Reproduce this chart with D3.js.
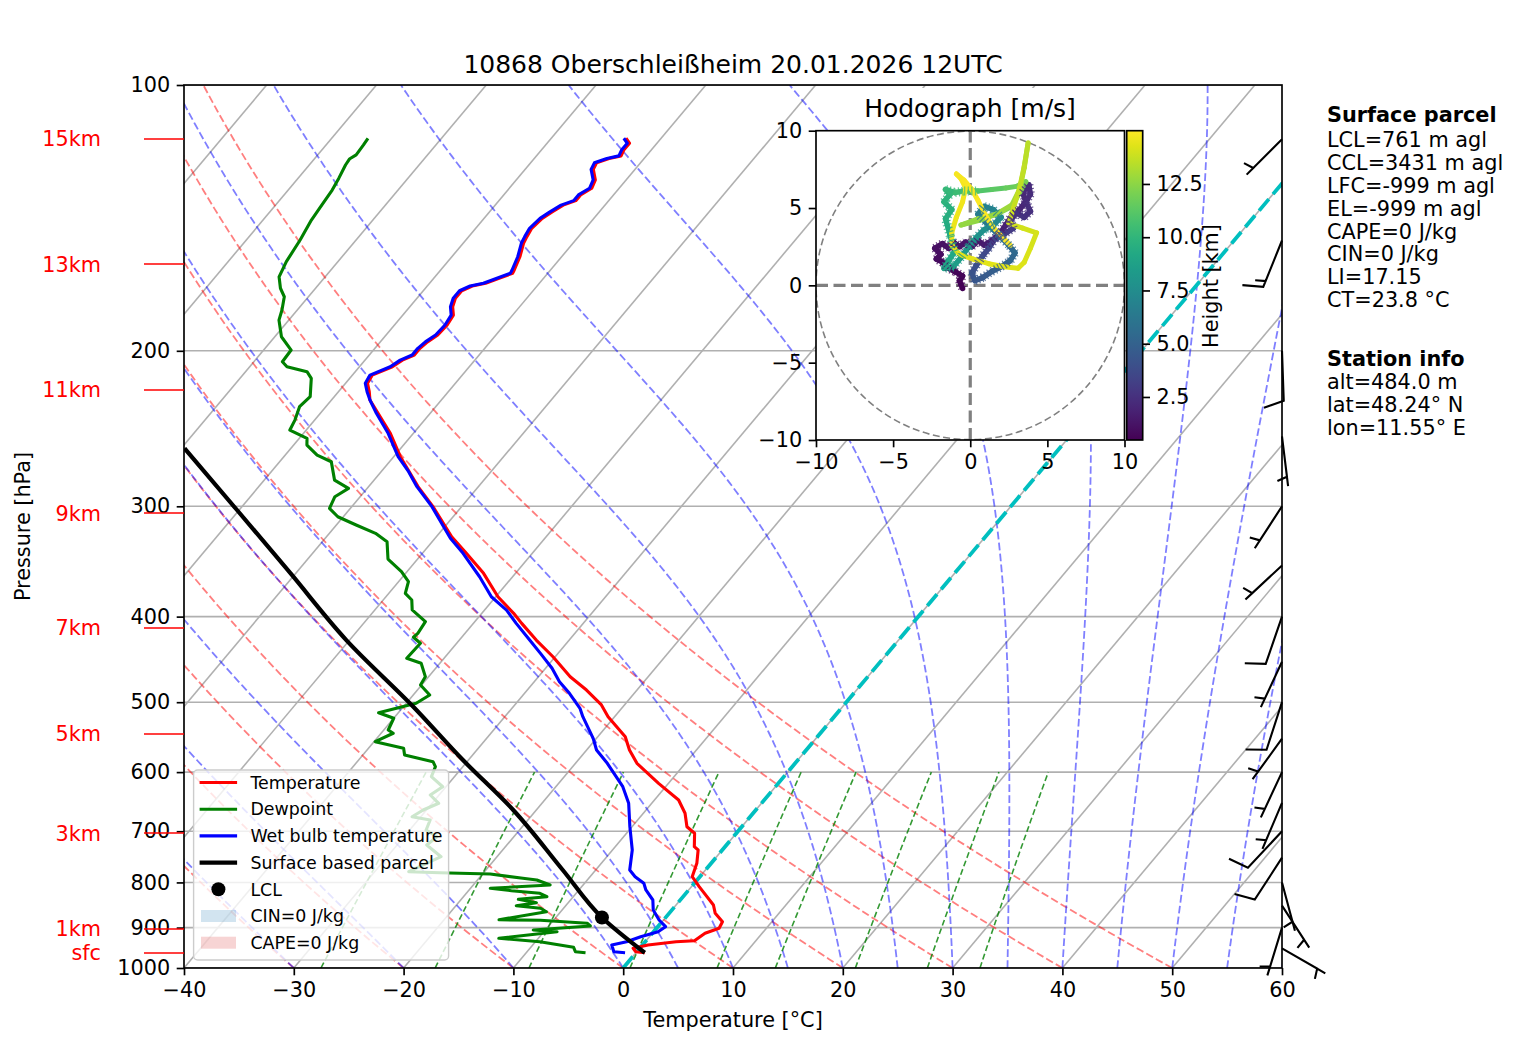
<!DOCTYPE html>
<html>
<head>
<meta charset="utf-8">
<title>10868 Oberschleißheim skew-T</title>
<script src="https://cdn.jsdelivr.net/npm/d3@7"></script>
<style>
  body { margin: 0; background: #fff; }
  text { font-family: "DejaVu Sans", sans-serif; }
</style>
</head>
<body>
<div id="chart"></div>
<script>
// ---- sounding profiles: [pressure hPa, value °C] ----
const temperature = [
  [960.9, 0.8], [958.4, -0.1], [949.9, -0.6], [941.8, 0.5], [933.7, 2.8], [931.3, 4.4],
  [913.5, 4.8], [901.7, 5.7], [886.3, 5.5], [867.1, 4.2], [848.5, 3.4], [808.9, 0.7],
  [788.1, -0.7], [761.1, -1.3], [735.1, -2.2], [728.8, -2.8], [703.8, -3.8], [691.8, -5.0],
  [668.0, -6.2], [645.3, -7.8], [617.8, -10.9], [586.4, -14.4], [566.4, -16.1], [547.1, -17.5],
  [519.2, -20.6], [503.6, -22.1], [484.4, -24.6], [467.9, -27.1], [444.1, -30.2], [425.2, -33.0],
  [407.1, -35.6], [396.6, -37.1], [379.8, -39.8], [357.3, -42.9], [339.1, -46.0], [324.8, -48.6],
  [300.3, -52.6], [285.0, -55.5], [263.6, -59.4], [248.0, -62.1], [227.4, -66.5], [222.5, -67.2],
  [217.7, -68.0], [213.1, -68.2], [208.5, -67.0], [204.9, -66.6], [202.2, -65.9], [198.7, -65.9],
  [195.4, -65.7], [191.9, -65.3], [187.0, -65.2], [182.2, -65.4], [178.3, -66.1], [174.4, -66.5],
  [171.0, -66.5], [168.9, -65.9], [167.7, -64.9], [165.6, -64.1], [163.4, -63.2], [162.0, -63.3],
  [156.5, -63.8], [151.1, -64.5], [148.5, -64.7], [145.3, -64.9], [141.6, -64.7], [139.2, -64.3],
  [136.8, -63.8], [135.2, -63.0], [133.2, -63.0], [130.9, -62.5], [128.1, -62.8], [124.6, -63.8],
  [122.5, -64.0], [121.1, -63.2], [120.3, -62.3], [118.5, -62.5], [116.4, -62.5], [114.9, -63.2]
];

const wetBulb = [
  [960.9, -1.0], [958.4, -2.1], [941.8, -2.8], [933.7, -1.7], [921.6, -0.8], [909.7, 0.4],
  [897.9, 0.7], [882.4, -0.4], [859.6, -1.7], [837.5, -2.5], [815.9, -3.9], [801.8, -4.6],
  [788.1, -5.9], [774.5, -6.9], [735.1, -8.2], [691.8, -10.2], [650.8, -12.1], [623.3, -13.9],
  [586.4, -17.1], [566.4, -19.1], [549.4, -20.3], [519.2, -22.9], [508.0, -23.8], [488.6, -25.9],
  [474.0, -27.7], [457.7, -29.4], [440.2, -31.6], [425.2, -33.6], [407.1, -36.1], [393.2, -38.0],
  [379.8, -40.4], [360.5, -43.0], [339.1, -46.3], [326.1, -48.6], [316.4, -50.1], [300.3, -52.7],
  [285.0, -55.6], [274.1, -57.5], [263.6, -59.6], [248.0, -62.3], [235.4, -64.9], [227.4, -66.5],
  [222.5, -67.4], [217.7, -68.2], [213.1, -68.4], [208.5, -67.2], [204.9, -66.8], [202.2, -66.1],
  [198.7, -66.1], [195.4, -65.9], [191.9, -65.5], [187.0, -65.4], [182.2, -65.6], [178.3, -66.3],
  [174.4, -66.7], [171.0, -66.7], [168.9, -66.1], [167.7, -65.1], [165.6, -64.3], [163.4, -63.4],
  [162.0, -63.5], [156.5, -64.0], [151.1, -64.7], [148.5, -64.9], [145.3, -65.1], [141.6, -64.9],
  [139.2, -64.5], [136.8, -64.0], [135.2, -63.2], [133.2, -63.2], [130.9, -62.7], [128.1, -63.0],
  [124.6, -64.0], [122.5, -64.2], [121.1, -63.4], [120.3, -62.5], [118.5, -62.7], [116.4, -62.7],
  [114.9, -63.4]
];

const dewpoint = [
  [960.9, -4.6], [958.4, -5.6], [947.5, -6.1], [933.7, -9.6], [925.5, -13.6], [909.7, -8.8],
  [905.7, -11.1], [896.3, -6.2], [890.0, -6.7], [883.0, -11.2], [881.8, -15.0], [863.5, -11.3],
  [855.8, -12.1], [850.1, -14.5], [843.4, -12.9], [836.0, -14.8], [830.3, -12.4], [823.0, -13.3],
  [817.4, -16.1], [812.3, -18.2], [805.4, -13.0], [794.9, -14.6], [791.4, -16.0], [782.6, -19.3],
  [780.0, -24.0], [777.9, -26.9], [748.1, -25.1], [725.6, -27.3], [710.1, -27.0], [697.8, -28.5],
  [679.8, -28.9], [674.0, -30.8], [662.3, -30.3], [650.8, -29.4], [636.9, -30.8], [623.3, -30.3],
  [607.2, -32.1], [591.6, -32.5], [583.9, -33.1], [573.8, -36.2], [563.9, -36.8], [554.2, -39.9],
  [542.2, -38.9], [537.6, -39.6], [521.4, -40.0], [513.9, -41.8], [501.4, -39.1], [490.7, -38.5],
  [478.1, -40.1], [467.8, -40.3], [451.8, -41.7], [445.9, -43.4], [428.8, -43.3], [422.1, -44.4],
  [417.8, -44.3], [405.3, -44.5], [393.1, -46.6], [383.0, -47.4], [376.4, -48.5], [365.2, -49.1],
  [355.8, -50.5], [344.2, -52.7], [329.1, -54.1], [321.9, -55.8], [315.0, -58.2], [308.3, -60.5],
  [301.6, -61.9], [292.6, -62.3], [286.3, -61.7], [280.2, -63.6], [267.1, -65.3], [262.5, -67.1],
  [255.7, -68.8], [251.3, -69.3], [245.9, -71.5], [239.6, -71.8], [231.4, -72.4], [225.4, -72.2],
  [214.9, -73.5], [211.2, -74.4], [208.5, -76.6], [205.8, -77.4], [199.6, -77.5], [192.8, -79.4],
  [184.6, -80.9], [179.8, -81.4], [173.7, -82.2], [169.9, -83.2], [164.9, -84.2], [158.5, -84.7],
  [149.8, -85.1], [142.2, -85.6], [136.7, -85.8], [131.5, -86.0], [127.5, -86.3], [123.2, -86.7],
  [121.3, -86.8], [120.0, -86.5], [116.9, -86.6], [114.9, -86.7]
];

const parcel = [
  [961.0, 0.8], [876.6, -5.8], [774.5, -13.0], [662.3, -22.1], [581.4, -30.5], [505.9, -39.1],
  [425.2, -50.3], [357.2, -60.5], [302.9, -70.2], [257.9, -79.7]
];
const lclPoint = [876.6, -5.8];

// ---- winds plotted as barbs on the right edge ----
const barbP = [950, 900, 850, 800, 750, 700, 650, 600, 550, 500, 450, 400, 350, 300, 250, 200, 150, 115.2];
const barbDir = [120, 197, 147, 165, 213, 223, 203, 205, 216, 198, 205, 199, 227, 213, 173, 178, 202, 225];
const barbKt = [5, 5, 5, 5, 10, 10, 5, 5, 5, 10, 5, 10, 5, 5, 5, 10, 15, 5];

// ---- hodograph trace: [u m/s, v m/s, height km] ----
const hodograph = [
  [-0.5, -0.2, 0.48], [-0.7, 0.3, 0.6], [-0.5, 0.6, 0.65], [-1.0, 0.9, 0.72], [-1.4, 1.1, 0.8],
  [-1.8, 1.5, 0.88], [-2.2, 1.7, 0.95], [-1.9, 2.0, 1.0], [-2.3, 2.4, 1.05], [-1.8, 2.7, 1.1],
  [-1.4, 2.4, 1.15], [-1.1, 2.8, 1.2], [-0.7, 2.5, 1.28], [-0.3, 2.8, 1.35], [0.1, 2.5, 1.42],
  [0.5, 2.9, 1.5], [0.9, 2.6, 1.58], [1.4, 2.9, 1.66], [1.9, 3.3, 1.74], [2.3, 3.9, 1.82],
  [2.7, 4.5, 1.9], [3.2, 4.9, 1.98], [3.6, 5.4, 2.06], [3.4, 6.0, 2.14], [3.8, 6.5, 2.22],
  [3.9, 5.9, 2.3], [3.6, 5.4, 2.38], [3.9, 4.8, 2.46], [3.5, 4.4, 2.55], [3.0, 4.7, 2.65],
  [2.6, 4.2, 2.75], [2.8, 3.7, 2.9], [2.2, 3.3, 3.1], [1.6, 3.0, 3.3], [1.2, 2.4, 3.5],
  [0.8, 1.9, 3.7], [0.4, 1.3, 3.9], [0.1, 0.8, 4.1], [0.3, 0.3, 4.3], [0.8, 0.5, 4.5],
  [1.4, 0.9, 4.7], [2.0, 1.2, 4.9], [2.6, 1.6, 5.1], [2.9, 2.1, 5.3], [2.5, 2.6, 5.5],
  [2.0, 3.1, 5.7], [1.5, 3.6, 5.95], [1.0, 4.1, 6.2], [0.5, 4.6, 6.45], [0.9, 5.1, 6.7],
  [1.5, 4.9, 6.95], [2.0, 4.4, 7.2], [1.5, 3.9, 7.45], [0.9, 3.6, 7.7], [0.4, 3.1, 7.95],
  [-0.1, 2.5, 8.2], [-0.6, 1.8, 8.45], [-1.1, 1.2, 8.7], [-1.7, 1.1, 8.9], [-1.4, 1.6, 9.05],
  [-1.0, 2.2, 9.2], [-1.3, 3.2, 9.35], [-1.6, 4.3, 9.5], [-1.2, 4.9, 9.65], [-1.7, 5.4, 9.8],
  [-1.3, 5.9, 9.95], [-1.6, 6.2, 10.1], [-1.0, 6.0, 10.3], [-0.4, 6.1, 10.6], [0.5, 6.1, 10.9],
  [1.4, 6.2, 11.2], [2.3, 6.3, 11.5], [3.0, 6.4, 11.75], [3.6, 6.7, 12.0], [2.7, 5.1, 12.2],
  [1.7, 4.6, 12.35], [0.6, 4.2, 12.5], [-0.6, 3.9, 12.6], [0.5, 4.3, 12.7], [1.7, 4.6, 12.8],
  [2.7, 5.2, 12.9], [3.2, 6.2, 13.05], [3.5, 7.6, 13.2], [3.75, 9.2, 13.4], [3.5, 7.7, 13.55],
  [3.2, 6.3, 13.7], [2.8, 5.0, 13.8], [2.5, 4.0, 13.9], [3.4, 3.7, 13.97], [4.3, 3.4, 14.05],
  [3.9, 2.4, 14.12], [3.5, 1.5, 14.2], [3.1, 1.1, 14.25], [2.2, 1.2, 14.3], [1.2, 1.4, 14.35],
  [0.2, 1.7, 14.4], [-0.7, 2.0, 14.45], [-1.2, 2.6, 14.5], [-1.2, 3.4, 14.55], [-0.9, 4.4, 14.6],
  [-0.5, 5.4, 14.65], [-0.3, 6.3, 14.7], [-0.6, 6.9, 14.75], [-0.9, 7.2, 14.8], [-0.4, 6.8, 14.84],
  [0.1, 6.2, 14.87], [0.5, 5.5, 14.9], [0.9, 4.7, 14.93], [1.3, 4.0, 14.95], [1.8, 3.4, 14.97],
  [2.2, 3.0, 14.99], [2.6, 2.6, 15.0]
];

// ---- axes, reference lines, labels ----
const pressureTicks = [100, 200, 300, 400, 500, 600, 700, 800, 900, 1000];
const tempTicks = [-40, -30, -20, -10, 0, 10, 20, 30, 40, 50, 60];
const isothermTemps = [-120, -110, -100, -90, -80, -70, -60, -50, -40, -30, -20, -10, 0, 10, 20, 30, 40, 50, 60];
const dryAdiabatT0 = [-40, -30, -20, -10, 0, 10, 20, 30, 40, 50];
const moistAdiabatT0 = [-40, -30, -20, -10, 0, 5, 10, 15, 20, 25, 30, 35, 40, 45, 50, 55, 60];
const mixingRatios = [0.0004, 0.001, 0.002, 0.004, 0.007, 0.01, 0.016, 0.024, 0.032];
const heightLabels = ["sfc", "1km", "3km", "5km", "7km", "9km", "11km", "13km", "15km"];
const heightP = [961.6, 903.3, 703.3, 543.2, 412.0, 305.3, 221.5, 159.5, 115.1];
const hodoTicks = [-10, -5, 0, 5, 10];
const cbarTicks = [2.5, 5.0, 7.5, 10.0, 12.5];
const parcelInfo = ["LCL=761 m agl", "CCL=3431 m agl", "LFC=-999 m agl", "EL=-999 m agl",
                    "CAPE=0 J/kg", "CIN=0 J/kg", "LI=17.15", "CT=23.8 °C"];
const stationInfo = ["alt=484.0 m", "lat=48.24° N", "lon=11.55° E"];

const W = 1517, H = 1054;
const FONT = "'DejaVu Sans', sans-serif";
const minus = d => (d < 0 ? "\u2212" + Math.abs(d) : String(d));

const svg = d3.select("#chart").append("svg")
  .attr("width", W).attr("height", H)
  .style("font-family", FONT);

// Skew-T frame
const L = 184, R = 1282, T = 85, B = 968;
const skew = 0.8397; // x shift per pixel of height
const x = d3.scaleLinear().domain([-40, 60]).range([L, R]);
const y = d3.scaleLog().domain([1000, 100]).range([B, T]);
const sx = (t, p) => x(t) + (B - y(p)) * skew;

const defs = svg.append("defs");
defs.append("clipPath").attr("id", "plotClip")
  .append("rect").attr("x", L).attr("y", T).attr("width", R - L).attr("height", B - T);

const plot = svg.append("g").attr("clip-path", "url(#plotClip)");
const profLine = d3.line().x(d => sx(d[1], d[0])).y(d => y(d[0]));
const smoothLine = d3.line().x(d => sx(d[1], d[0])).y(d => y(d[0])).curve(d3.curveMonotoneY);

// pressure grid
plot.selectAll(".pgrid").data(pressureTicks).enter().append("line")
  .attr("x1", L).attr("x2", R).attr("y1", d => y(d)).attr("y2", d => y(d))
  .attr("stroke", "#b0b0b0").attr("stroke-width", 1.6);

// skewed isotherms
plot.selectAll(".tgrid").data(isothermTemps).enter().append("line")
  .attr("x1", d => sx(d, 1000)).attr("y1", B)
  .attr("x2", d => sx(d, 100)).attr("y2", T)
  .attr("stroke", "#b0b0b0").attr("stroke-width", 1.6);

// pressure levels used for the background curves
const levels = d3.range(0, 101).map(i => 1000 * Math.pow(0.1, i / 100));

// dry adiabats
plot.selectAll(".dry").data(dryAdiabatT0).enter().append("path")
  .attr("d", t0 => profLine(levels.map(p => [p, (t0 + 273.15) * Math.pow(p / 1000, 0.2857) - 273.15])))
  .attr("fill", "none").attr("stroke", "#ff0000").attr("stroke-opacity", 0.5)
  .attr("stroke-width", 1.8).attr("stroke-dasharray", "7.7,3.3");

// moist adiabats (pseudo-adiabatic lapse rate, integrated from 1000 hPa)
function moistCurve(t0) {
  const Rd = 287.04749, Lv = 2.50084e6, Cp = 1004.6662, eps = 0.6219569;
  const es = tk => 6.112 * Math.exp(17.67 * (tk - 273.15) / (tk - 29.65));
  const f = (p, tk) => {
    const e = es(tk), rs = eps * e / (p - e);
    return (Rd * tk + Lv * rs) / (Cp + Lv * Lv * rs * eps / (Rd * tk * tk));
  };
  const n = 200, h = Math.log(0.1) / n;
  let tk = t0 + 273.15, lp = Math.log(1000);
  const out = [[1000, t0]];
  for (let i = 0; i < n; i++) {
    const p0 = Math.exp(lp), pm = Math.exp(lp + h / 2), p1 = Math.exp(lp + h);
    const k1 = f(p0, tk), k2 = f(pm, tk + h * k1 / 2), k3 = f(pm, tk + h * k2 / 2), k4 = f(p1, tk + h * k3);
    tk += h * (k1 + 2 * k2 + 2 * k3 + k4) / 6;
    lp += h;
    out.push([p1, tk - 273.15]);
  }
  return out;
}
plot.selectAll(".moist").data(moistAdiabatT0).enter().append("path")
  .attr("d", t0 => profLine(moistCurve(t0)))
  .attr("fill", "none").attr("stroke", "#0000ff").attr("stroke-opacity", 0.5)
  .attr("stroke-width", 1.8).attr("stroke-dasharray", "7.7,3.3");

// mixing ratio lines, 1000 -> 600 hPa
const mixLevels = d3.range(0, 41).map(i => 1000 - i * 10);
plot.selectAll(".mix").data(mixingRatios).enter().append("path")
  .attr("d", w => profLine(mixLevels.map(p => {
    const e = p * w / (0.6219569 + w), a = Math.log(e / 6.112);
    return [p, 243.5 * a / (17.67 - a)];
  })))
  .attr("fill", "none").attr("stroke", "#008000").attr("stroke-opacity", 0.8)
  .attr("stroke-width", 1.6).attr("stroke-dasharray", "6,3");

// 0 °C isotherm
plot.append("line")
  .attr("x1", sx(0, 1000)).attr("y1", B).attr("x2", sx(0, 100)).attr("y2", T)
  .attr("stroke", "#00bfbf").attr("stroke-width", 3.8).attr("stroke-dasharray", "15,6.5");

// profiles
plot.append("path").attr("d", profLine(temperature)).attr("fill", "none")
  .attr("stroke", "#ff0000").attr("stroke-width", 3.1).attr("stroke-linejoin", "round");
plot.append("path").attr("d", profLine(dewpoint)).attr("fill", "none")
  .attr("stroke", "#008000").attr("stroke-width", 3.1).attr("stroke-linejoin", "round");
plot.append("path").attr("d", profLine(wetBulb)).attr("fill", "none")
  .attr("stroke", "#0000ff").attr("stroke-width", 3.1).attr("stroke-linejoin", "round");
plot.append("path").attr("d", smoothLine(parcel)).attr("fill", "none")
  .attr("stroke", "#000").attr("stroke-width", 4.2).attr("stroke-linejoin", "round");
plot.append("circle").attr("cx", sx(lclPoint[1], lclPoint[0])).attr("cy", y(lclPoint[0]))
  .attr("r", 7).attr("fill", "#000");

// frame
svg.append("rect").attr("x", L).attr("y", T).attr("width", R - L).attr("height", B - T)
  .attr("fill", "none").attr("stroke", "#000").attr("stroke-width", 1.67);

// axes
const gy = svg.append("g").attr("transform", `translate(${L},0)`)
  .call(d3.axisLeft(y).tickValues(pressureTicks).tickFormat(d3.format("d"))
    .tickSize(7.3).tickPadding(6.5).tickSizeOuter(0));
const gx = svg.append("g").attr("transform", `translate(0,${B})`)
  .call(d3.axisBottom(x).tickValues(tempTicks).tickFormat(minus)
    .tickSize(7.3).tickPadding(6.5).tickSizeOuter(0));
[gy, gx].forEach(g => {
  g.attr("font-size", 20.8).attr("font-family", FONT);
  g.select(".domain").remove();
  g.selectAll("line").attr("stroke", "#000").attr("stroke-width", 1.67);
  g.selectAll("text").attr("fill", "#000");
});

svg.append("text").attr("x", (L + R) / 2).attr("y", 1027).attr("text-anchor", "middle")
  .attr("font-size", 20.8).text("Temperature [°C]");
svg.append("text").attr("transform", `translate(30,${(T + B) / 2}) rotate(-90)`)
  .attr("text-anchor", "middle").attr("font-size", 20.8).text("Pressure [hPa]");
svg.append("text").attr("x", (L + R) / 2).attr("y", 73).attr("text-anchor", "middle")
  .attr("font-size", 25).text("10868 Oberschleißheim 20.01.2026 12UTC");

// height markers on the left
heightP.forEach((p, i) => {
  svg.append("line").attr("x1", 144).attr("x2", L).attr("y1", y(p)).attr("y2", y(p))
    .attr("stroke", "#ff0000").attr("stroke-width", 1.4);
  svg.append("text").attr("x", 101).attr("y", y(p)).attr("dy", "0.36em")
    .attr("text-anchor", "end").attr("font-size", 20.8).attr("fill", "#ff0000")
    .text(heightLabels[i]);
});

// legend
const lg = svg.append("g");
lg.append("rect").attr("x", 193.6).attr("y", 770).attr("width", 255).attr("height", 190)
  .attr("rx", 4).attr("fill", "#fff").attr("fill-opacity", 0.8)
  .attr("stroke", "#cccccc").attr("stroke-width", 1.4);
const legendItems = [
  { label: "Temperature", type: "line", color: "#ff0000", w: 3.1 },
  { label: "Dewpoint", type: "line", color: "#008000", w: 3.1 },
  { label: "Wet bulb temperature", type: "line", color: "#0000ff", w: 3.1 },
  { label: "Surface based parcel", type: "line", color: "#000", w: 4.2 },
  { label: "LCL", type: "dot", color: "#000" },
  { label: "CIN=0 J/kg", type: "patch", color: "#1f77b4" },
  { label: "CAPE=0 J/kg", type: "patch", color: "#d62728" }
];
legendItems.forEach((it, i) => {
  const cy = 782.5 + i * 26.7;
  if (it.type === "line") {
    lg.append("line").attr("x1", 199.6).attr("x2", 237.1).attr("y1", cy).attr("y2", cy)
      .attr("stroke", it.color).attr("stroke-width", it.w);
  } else if (it.type === "dot") {
    lg.append("circle").attr("cx", 218.4).attr("cy", cy).attr("r", 7).attr("fill", it.color);
  } else {
    lg.append("rect").attr("x", 201).attr("y", cy - 6).attr("width", 35).attr("height", 12)
      .attr("fill", it.color).attr("fill-opacity", 0.2);
  }
  lg.append("text").attr("x", 250.4).attr("y", cy).attr("dy", "0.36em")
    .attr("font-size", 17.4).text(it.label);
});

// wind barbs (matplotlib geometry: staff 50 px, barb 0.4, width 0.25, spacing 0.125)
function barbPath(bx, by, dir, spd) {
  const len = 50, bh = 0.4 * len, bw = 0.25 * len, sp = 0.125 * len;
  const rad = dir * Math.PI / 180;
  const u = -spd * Math.sin(rad), v = -spd * Math.cos(rad);
  const th = Math.atan2(v, u) + Math.PI / 2;
  const c = Math.cos(th), s = Math.sin(th);
  const tr = ([lx, ly]) => [bx + lx * c - ly * s, by - (lx * s + ly * c)];
  let rem = Math.round(spd / 5) * 5;
  const nflag = Math.floor(rem / 50); rem -= nflag * 50;
  const nbarb = Math.floor(rem / 10); rem -= nbarb * 10;
  const half = rem >= 5;
  const verts = [[0, 0]];
  let off = len;
  for (let i = 0; i < nflag; i++) { verts.push([0, off], [bh, off - bw / 2], [0, off - bw]); off -= bw + sp; }
  for (let i = 0; i < nbarb; i++) { verts.push([0, off], [bh, off + bw / 2], [0, off]); off -= sp; }
  if (half) {
    if (off === len) { verts.push([0, off]); off -= 1.5 * sp; }
    verts.push([0, off], [bh / 2, off + bw / 4], [0, off]);
  }
  return "M" + verts.map(tr).map(q => q[0].toFixed(2) + "," + q[1].toFixed(2)).join("L") + "Z";
}
svg.append("g").selectAll("path").data(barbP).enter().append("path")
  .attr("d", (p, i) => barbPath(R, y(p), barbDir[i], barbKt[i]))
  .attr("fill", "none").attr("stroke", "#000").attr("stroke-width", 2.1).attr("stroke-linejoin", "miter");

// ---- hodograph inset ----
const hx = d3.scaleLinear().domain([-10, 10]).range([816, 1124.5]);
const hy = d3.scaleLinear().domain([-10, 10]).range([440, 130.7]);
const hmin = 0.48, hmax = 15.0;
const color = h => d3.interpolateViridis((h - hmin) / (hmax - hmin));

defs.append("clipPath").attr("id", "hodoClip")
  .append("rect").attr("x", 816).attr("y", 130.7).attr("width", 308.5).attr("height", 309.3);
svg.append("rect").attr("x", 855).attr("y", 88).attr("width", 230).attr("height", 43).attr("fill", "#fff");
svg.append("rect").attr("x", 816).attr("y", 130.7).attr("width", 308.5).attr("height", 309.3).attr("fill", "#fff");

const hodo = svg.append("g").attr("clip-path", "url(#hodoClip)");
hodo.append("circle").attr("cx", hx(0)).attr("cy", hy(0)).attr("r", hx(10) - hx(0))
  .attr("fill", "none").attr("stroke", "#808080").attr("stroke-width", 1.6).attr("stroke-dasharray", "7,3.5");
hodo.append("line").attr("x1", hx(-10)).attr("x2", hx(10)).attr("y1", hy(0)).attr("y2", hy(0))
  .attr("stroke", "#808080").attr("stroke-width", 3.2).attr("stroke-dasharray", "12,5.5");
hodo.append("line").attr("x1", hx(0)).attr("x2", hx(0)).attr("y1", hy(-10)).attr("y2", hy(10))
  .attr("stroke", "#808080").attr("stroke-width", 3.2).attr("stroke-dasharray", "12,5.5");
const segs = d3.pairs(hodograph);
// the raw trace is noisy below ~11 km: draw it wider with a hairy dashed overlay
hodo.selectAll(".seg").data(segs).enter().append("line")
  .attr("x1", d => hx(d[0][0])).attr("y1", d => hy(d[0][1]))
  .attr("x2", d => hx(d[1][0])).attr("y2", d => hy(d[1][1]))
  .attr("stroke", d => color((d[0][2] + d[1][2]) / 2))
  .attr("stroke-width", d => (d[1][2] < 11 ? 5.5 : 5)).attr("stroke-linecap", "round");
hodo.selectAll(".fuzz").data(segs.filter(d => d[1][2] < 11)).enter().append("line")
  .attr("x1", d => hx(d[0][0])).attr("y1", d => hy(d[0][1]))
  .attr("x2", d => hx(d[1][0])).attr("y2", d => hy(d[1][1]))
  .attr("stroke", d => color((d[0][2] + d[1][2]) / 2))
  .attr("stroke-width", 9).attr("stroke-dasharray", "1.2,2.4").attr("stroke-opacity", 0.8);

svg.append("rect").attr("x", 816).attr("y", 130.7).attr("width", 308.5).attr("height", 309.3)
  .attr("fill", "none").attr("stroke", "#000").attr("stroke-width", 1.67);
const ghx = svg.append("g").attr("transform", "translate(0,440)")
  .call(d3.axisBottom(hx).tickValues(hodoTicks).tickFormat(minus).tickSize(7.3).tickPadding(6.5).tickSizeOuter(0));
const ghy = svg.append("g").attr("transform", "translate(816,0)")
  .call(d3.axisLeft(hy).tickValues(hodoTicks).tickFormat(minus).tickSize(7.3).tickPadding(6.5).tickSizeOuter(0));
[ghx, ghy].forEach(g => {
  g.attr("font-size", 20.8).attr("font-family", FONT);
  g.select(".domain").remove();
  g.selectAll("line").attr("stroke", "#000").attr("stroke-width", 1.67);
  g.selectAll("text").attr("fill", "#000");
});
svg.append("text").attr("x", 970).attr("y", 117).attr("text-anchor", "middle")
  .attr("font-size", 25).text("Hodograph [m/s]");

// colorbar
const grad = defs.append("linearGradient").attr("id", "viridisGrad")
  .attr("x1", 0).attr("y1", 1).attr("x2", 0).attr("y2", 0);
d3.range(0, 1.0001, 0.05).forEach(t => {
  grad.append("stop").attr("offset", t).attr("stop-color", d3.interpolateViridis(t));
});
const cb = d3.scaleLinear().domain([hmin, hmax]).range([440, 130.7]);
svg.append("rect").attr("x", 1126.7).attr("y", 130.7).attr("width", 16).attr("height", 309.3)
  .attr("fill", "url(#viridisGrad)").attr("stroke", "#000").attr("stroke-width", 1.67);
const gcb = svg.append("g").attr("transform", "translate(1142.7,0)")
  .call(d3.axisRight(cb).tickValues(cbarTicks).tickFormat(d3.format(".1f")).tickSize(7.3).tickPadding(6.5).tickSizeOuter(0));
gcb.attr("font-size", 20.8).attr("font-family", FONT);
gcb.select(".domain").remove();
gcb.selectAll("line").attr("stroke", "#000").attr("stroke-width", 1.67);
gcb.selectAll("text").attr("fill", "#000");
svg.append("text").attr("transform", "translate(1218,286) rotate(-90)")
  .attr("text-anchor", "middle").attr("font-size", 20.8).text("Height [km]");

// ---- text panel on the right ----
const tx = 1327;
svg.append("text").attr("x", tx).attr("y", 122).attr("font-size", 20.8).attr("font-weight", "bold").text("Surface parcel");
parcelInfo.forEach((s, i) => svg.append("text").attr("x", tx).attr("y", 146.7 + i * 22.95).attr("font-size", 20.8).text(s));
svg.append("text").attr("x", tx).attr("y", 366).attr("font-size", 20.8).attr("font-weight", "bold").text("Station info");
stationInfo.forEach((s, i) => svg.append("text").attr("x", tx).attr("y", 389.3 + i * 22.95).attr("font-size", 20.8).text(s));
</script>
</body>
</html>
